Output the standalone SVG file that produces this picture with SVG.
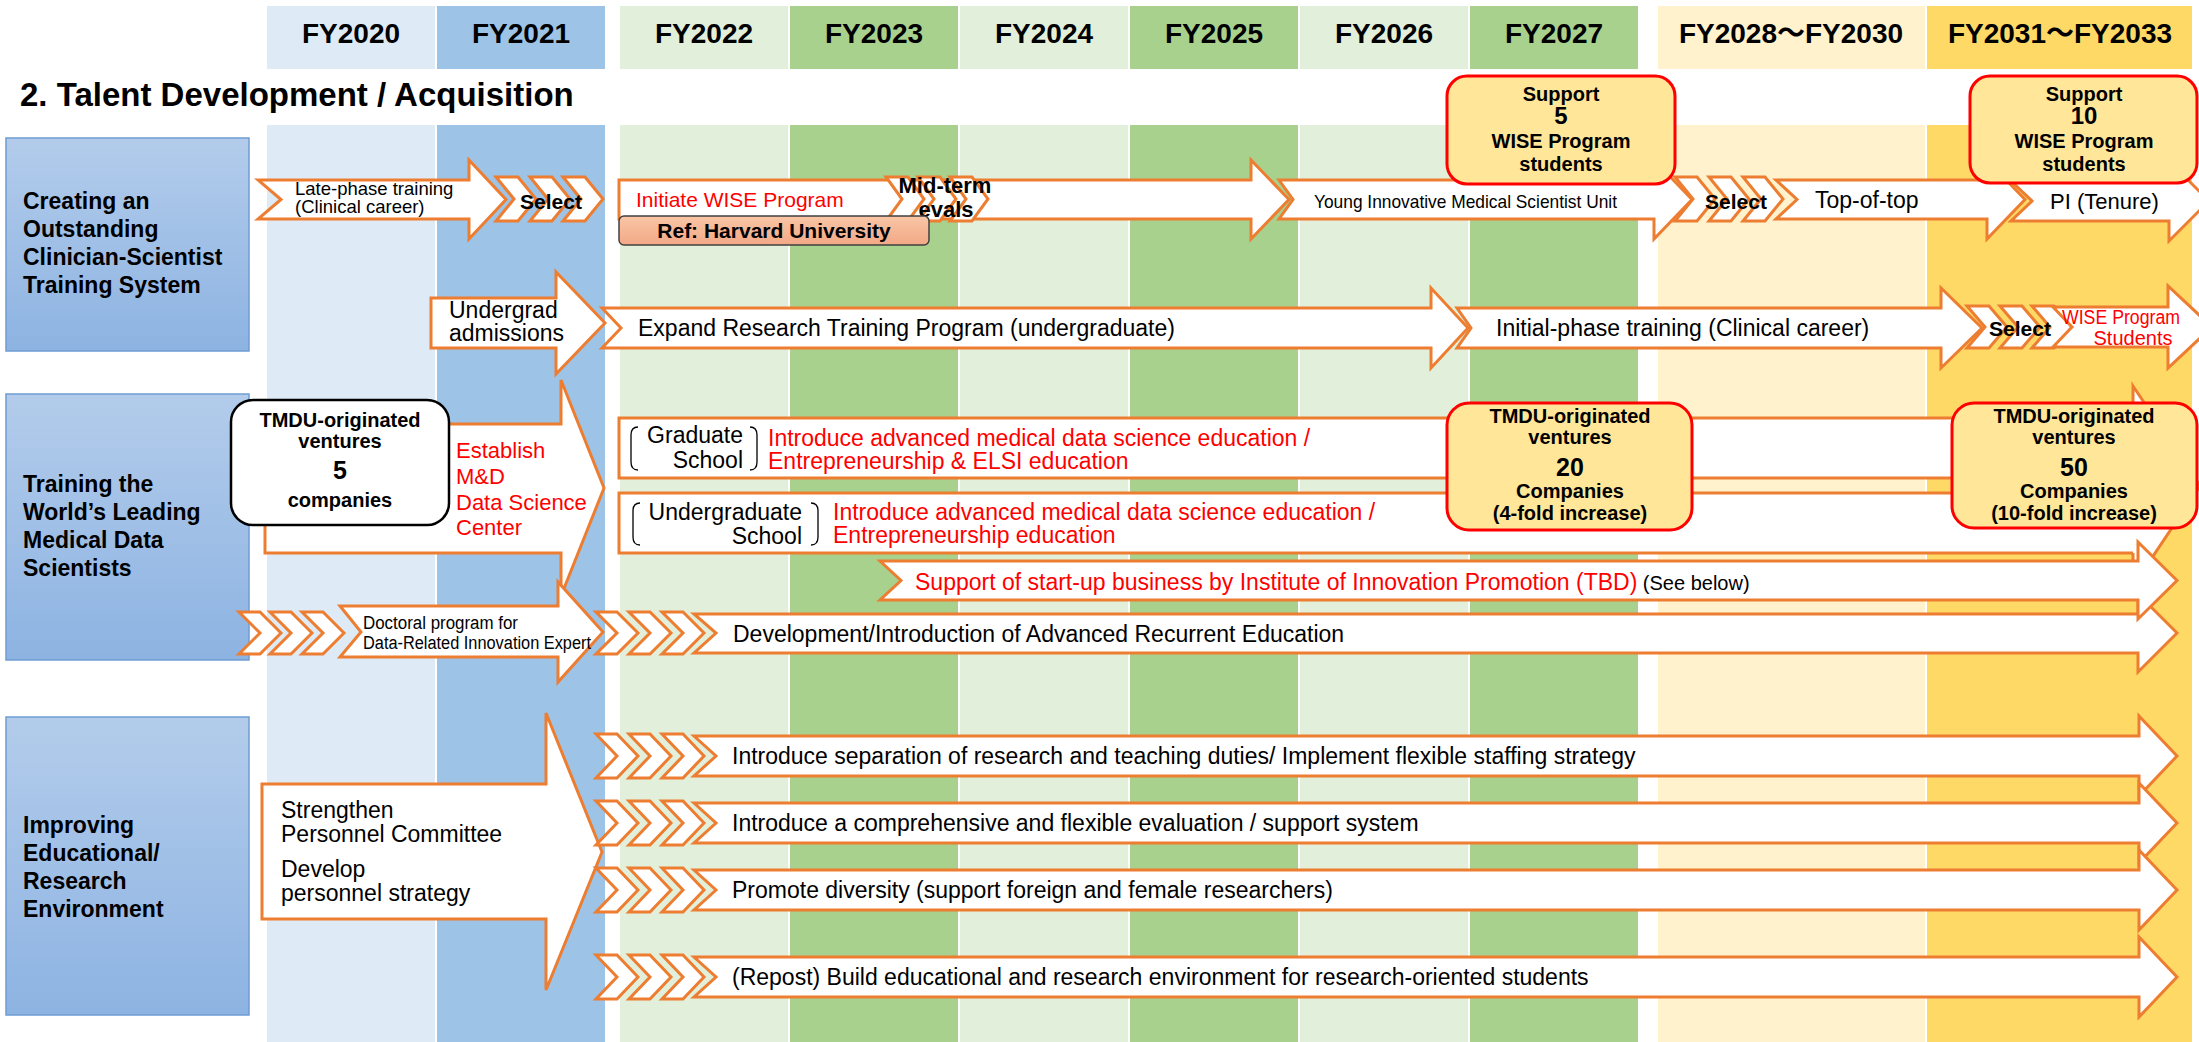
<svg xmlns="http://www.w3.org/2000/svg" width="2199" height="1042" viewBox="0 0 2199 1042">
<defs>
<linearGradient id="lbl" x1="0" y1="0" x2="0" y2="1"><stop offset="0" stop-color="#B3CCEB"/><stop offset="1" stop-color="#8DB3E2"/></linearGradient>
<linearGradient id="ref" x1="0" y1="0" x2="0" y2="1"><stop offset="0" stop-color="#F8C6A6"/><stop offset="1" stop-color="#F3A886"/></linearGradient>
</defs>
<style>
text{font-family:"Liberation Sans",Arial,sans-serif;fill:#000}
.hd{font-size:28px;font-weight:bold;text-anchor:middle;font-family:"Liberation Sans","Noto Sans CJK JP",sans-serif}
.lb{font-size:23px;font-weight:bold}
.t{font-size:23px}
.r{fill:#FF0000}
.b{font-weight:bold}
.m{text-anchor:middle}
.e{text-anchor:end}
.ar{fill:#FFFFFF;stroke:#ED7D31;stroke-width:3;stroke-linejoin:miter}
.arn{fill:none;stroke:#ED7D31;stroke-width:3}
.lbox{fill:url(#lbl);stroke:#6F9DD3;stroke-width:1.5}
.rbox{fill:#FFE699;stroke:#FF0000;stroke-width:3}
.brk{fill:none;stroke:#000;stroke-width:1.3}
</style>

<g id="columns">
<rect x="267" y="6" width="168" height="63" fill="#DEEBF7"/>
<rect x="437" y="6" width="168" height="63" fill="#9DC3E6"/>
<rect x="620" y="6" width="168" height="63" fill="#E2EFDA"/>
<rect x="790" y="6" width="168" height="63" fill="#A9D18E"/>
<rect x="960" y="6" width="168" height="63" fill="#E2EFDA"/>
<rect x="1130" y="6" width="168" height="63" fill="#A9D18E"/>
<rect x="1300" y="6" width="168" height="63" fill="#E2EFDA"/>
<rect x="1470" y="6" width="168" height="63" fill="#A9D18E"/>
<rect x="1658" y="6" width="267" height="63" fill="#FFF2CC"/>
<rect x="1927" y="6" width="265" height="63" fill="#FFD966"/>
<rect x="267" y="125" width="168" height="917" fill="#DEEBF7"/>
<rect x="437" y="125" width="168" height="917" fill="#9DC3E6"/>
<rect x="620" y="125" width="168" height="917" fill="#E2EFDA"/>
<rect x="790" y="125" width="168" height="917" fill="#A9D18E"/>
<rect x="960" y="125" width="168" height="917" fill="#E2EFDA"/>
<rect x="1130" y="125" width="168" height="917" fill="#A9D18E"/>
<rect x="1300" y="125" width="168" height="917" fill="#E2EFDA"/>
<rect x="1470" y="125" width="168" height="917" fill="#A9D18E"/>
<rect x="1658" y="125" width="267" height="917" fill="#FFF2CC"/>
<rect x="1927" y="125" width="265" height="917" fill="#FFD966"/>
<text class="hd" x="351" y="43">FY2020</text>
<text class="hd" x="521" y="43">FY2021</text>
<text class="hd" x="704" y="43">FY2022</text>
<text class="hd" x="874" y="43">FY2023</text>
<text class="hd" x="1044" y="43">FY2024</text>
<text class="hd" x="1214" y="43">FY2025</text>
<text class="hd" x="1384" y="43">FY2026</text>
<text class="hd" x="1554" y="43">FY2027</text>
<text class="hd" x="1791" y="43">FY2028～FY2030</text>
<text class="hd" x="2060" y="43">FY2031～FY2033</text>
</g>

<text x="20" y="106" style="font-size:33px;font-weight:bold">2. Talent Development / Acquisition</text>

<g id="label-row1">
<rect class="lbox" x="6" y="138" width="243" height="213"/>
<text class="lb" x="23" y="209">Creating an</text>
<text class="lb" x="23" y="237">Outstanding</text>
<text class="lb" x="23" y="265">Clinician-Scientist</text>
<text class="lb" x="23" y="293">Training System</text>
</g>
<g id="label-row2">
<rect class="lbox" x="6" y="394" width="243" height="266"/>
<text class="lb" x="23" y="492">Training the</text>
<text class="lb" x="23" y="520">World’s Leading</text>
<text class="lb" x="23" y="548">Medical Data</text>
<text class="lb" x="23" y="576">Scientists</text>
</g>
<g id="label-row3">
<rect class="lbox" x="6" y="717" width="243" height="298"/>
<text class="lb" x="23" y="833">Improving</text>
<text class="lb" x="23" y="861">Educational/</text>
<text class="lb" x="23" y="889">Research</text>
<text class="lb" x="23" y="917">Environment</text>
</g>

<g id="connectors">
<!-- Row 1 -->
<g id="late-phase">
<polygon class="ar" points="258,180 469,180 469,160 506,199.5 469,239 469,219 258,219 281,199.5"/>
<text x="295" y="195" style="font-size:18.5px">Late-phase training</text>
<text x="295" y="213" style="font-size:18.5px">(Clinical career)</text>
</g>
<g id="select1">
<polygon class="ar" points="496,177 518,177 536,199 518,221 496,221 514,199"/>
<polygon class="ar" points="530,177 552,177 570,199 552,221 530,221 548,199"/>
<polygon class="ar" points="563,177 585,177 603,199 585,221 563,221 581,199"/>
<text class="b m" x="551" y="209" style="font-size:21px">Select</text>
</g>
<g id="wise-init">
<polygon class="ar" points="619,180 1251,180 1251,160 1289,199.5 1251,239 1251,219 619,219"/>
<text class="r" x="636" y="207" style="font-size:21px">Initiate WISE Program</text>
</g>
<g id="midterm">
<polygon class="ar" points="886,177 908,177 924,199 908,221 886,221 902,199"/>
<polygon class="ar" points="918,177 940,177 956,199 940,221 918,221 934,199"/>
<polygon class="ar" points="950,177 972,177 988,199 972,221 950,221 966,199"/>
<text class="b m" x="945" y="193" style="font-size:22px">Mid-term</text>
<text class="b m" x="946" y="217" style="font-size:22px">evals</text>
</g>
<g id="young">
<polygon class="ar" points="1279,180 1654,180 1654,160 1692,199.5 1654,239 1654,219 1279,219 1293,199.5"/>
<text x="1314" y="208" style="font-size:19px" textLength="303" lengthAdjust="spacingAndGlyphs">Young Innovative Medical Scientist Unit</text>
</g>
<g id="select2">
<polygon class="ar" points="1675,177 1697,177 1715,199 1697,221 1675,221 1693,199"/>
<polygon class="ar" points="1709,177 1731,177 1749,199 1731,221 1709,221 1727,199"/>
<polygon class="ar" points="1743,177 1765,177 1783,199 1765,221 1743,221 1761,199"/>
<text class="b m" x="1736" y="209" style="font-size:21px">Select</text>
</g>
<g id="topoftop">
<polygon class="ar" points="1776,180 1987,180 1987,160 2025,199.5 1987,239 1987,219 1776,219 1797,199.5"/>
<text class="t" x="1815" y="208">Top-of-top</text>
</g>
<g id="pi">
<polygon class="ar" points="2011,181 2169,181 2169,161 2209,201 2169,241 2169,221 2011,221 2032,201"/>
<text x="2050" y="209" style="font-size:22px">PI (Tenure)</text>
</g>

<!-- Row 1b -->
<g id="admissions">
<polygon class="ar" points="431,298 556,298 556,272 605,323 556,374 556,348 431,348"/>
<text class="t" x="449" y="318">Undergrad</text>
<text class="t" x="449" y="341">admissions</text>
</g>
<g id="expand">
<polygon class="ar" points="602,308 1431,308 1431,288 1468,328 1431,368 1431,348 602,348 621,328"/>
<text class="t" x="638" y="336">Expand Research Training Program (undergraduate)</text>
</g>
<g id="initial">
<polygon class="ar" points="1457,308 1941,308 1941,288 1982,328 1941,368 1941,348 1457,348 1471,328"/>
<text class="t" x="1496" y="336">Initial-phase training (Clinical career)</text>
</g>
<g id="select3">
<polygon class="ar" points="1967,306 1989,306 2007,327 1989,348 1967,348 1985,327"/>
<polygon class="ar" points="2000,306 2022,306 2040,327 2022,348 2000,348 2018,327"/>
<polygon class="ar" points="2032,306 2054,306 2072,327 2054,348 2032,348 2050,327"/>
<text class="b m" x="2020" y="336" style="font-size:21px">Select</text>
</g>
<g id="wise-students">
<polygon class="ar" points="2053,307 2168,307 2168,286 2212,327 2168,368 2168,347 2053,347 2072,327"/>
<text class="r" x="2062" y="324" style="font-size:20px" textLength="118" lengthAdjust="spacingAndGlyphs">WISE Program</text>
<text class="r m" x="2133" y="345" style="font-size:20px">Students</text>
</g>

<!-- Row 2 -->
<g id="datacenter">
<polygon class="ar" points="265,424 561,424 561,380 604,488 561,596 561,553 265,553"/>
<text class="r" x="456" y="458" style="font-size:22px">Establish</text>
<text class="r" x="456" y="484" style="font-size:22px">M&amp;D</text>
<text class="r" x="456" y="510" style="font-size:22px">Data Science</text>
<text class="r" x="456" y="535" style="font-size:22px">Center</text>
</g>
<g id="grad-undergrad">
<polygon class="ar" points="2133,386 2200,486 2133,586"/>
<rect x="619" y="418" width="1517" height="60" fill="#FFFFFF"/>
<path class="arn" d="M2133,418 H619 V478 H2133"/>
<rect x="619" y="493" width="1517" height="60" fill="#FFFFFF"/>
<path class="arn" d="M2133,493 H619 V553 H2133"/>
<path class="brk" d="M638,427 Q631,427 631,435 V462 Q631,470 638,470"/>
<path class="brk" d="M750,427 Q757,427 757,435 V462 Q757,470 750,470"/>
<text class="t e" x="743" y="443">Graduate</text>
<text class="t e" x="743" y="468">School</text>
<text class="t r" x="768" y="446">Introduce advanced medical data science education /</text>
<text class="t r" x="768" y="469">Entrepreneurship &amp; ELSI education</text>
<path class="brk" d="M640,503 Q633,503 633,511 V537 Q633,545 640,545"/>
<path class="brk" d="M811,503 Q818,503 818,511 V537 Q818,545 811,545"/>
<text class="t e" x="802" y="520">Undergraduate</text>
<text class="t e" x="802" y="544">School</text>
<text class="t r" x="833" y="520">Introduce advanced medical data science education /</text>
<text class="t r" x="833" y="543">Entrepreneurship education</text>
</g>
<g id="doctoral">
<polygon class="ar" points="239,612 260,612 281,633 260,654 239,654 260,633"/>
<polygon class="ar" points="270,612 291,612 312,633 291,654 270,654 291,633"/>
<polygon class="ar" points="302,612 323,612 344,633 323,654 302,654 323,633"/>
<polygon class="ar" points="340,606 558,606 558,582 603,632 558,682 558,657 340,657 361,632"/>
<text x="363" y="629" style="font-size:18px" textLength="155" lengthAdjust="spacingAndGlyphs">Doctoral program for</text>
<text x="363" y="649" style="font-size:18px" textLength="228" lengthAdjust="spacingAndGlyphs">Data-Related Innovation Expert</text>
</g>
<g id="recurrent">
<polygon class="ar" points="596,612 617,612 638,633 617,654 596,654 617,633"/>
<polygon class="ar" points="629,612 650,612 671,633 650,654 629,654 650,633"/>
<polygon class="ar" points="662,612 683,612 704,633 683,654 662,654 683,633"/>
<polygon class="ar" points="694,614 2138,614 2138,594 2177,633 2138,672 2138,653 694,653 716,633"/>
<text class="t" x="733" y="642">Development/Introduction of Advanced Recurrent Education</text>
</g>
<g id="startup">
<polygon class="ar" points="880,561 2138,561 2138,542 2177,580.5 2138,619 2138,600 880,600 901,580.5"/>
<text class="t" x="915" y="590"><tspan class="r">Support of start-up business by Institute of Innovation Promotion (TBD)</tspan><tspan style="font-size:20px"> (See below)</tspan></text>
</g>

<!-- Row 3 -->
<g id="personnel">
<polygon class="ar" points="262,784 546,784 546,713 602,852 546,990 546,919 262,919"/>
<text class="t" x="281" y="818">Strengthen</text>
<text class="t" x="281" y="842">Personnel Committee</text>
<text class="t" x="281" y="877">Develop</text>
<text class="t" x="281" y="901">personnel strategy</text>
</g>
<g id="sep">
<polygon class="ar" points="596,734 617,734 638,756 617,778 596,778 617,756"/>
<polygon class="ar" points="629,734 650,734 671,756 650,778 629,778 650,756"/>
<polygon class="ar" points="662,734 683,734 704,756 683,778 662,778 683,756"/>
<polygon class="ar" points="694,736 2139,736 2139,716 2177,756 2139,796 2139,776 694,776 716,756"/>
<text class="t" x="732" y="764">Introduce separation of research and teaching duties/ Implement flexible staffing strategy</text>
</g>
<g id="eval">
<polygon class="ar" points="596,801 617,801 638,823 617,845 596,845 617,823"/>
<polygon class="ar" points="629,801 650,801 671,823 650,845 629,845 650,823"/>
<polygon class="ar" points="662,801 683,801 704,823 683,845 662,845 683,823"/>
<polygon class="ar" points="694,803 2139,803 2139,783 2177,823 2139,863 2139,843 694,843 716,823"/>
<text class="t" x="732" y="831">Introduce a comprehensive and flexible evaluation / support system</text>
</g>
<g id="diversity">
<polygon class="ar" points="596,868 617,868 638,890 617,912 596,912 617,890"/>
<polygon class="ar" points="629,868 650,868 671,890 650,912 629,912 650,890"/>
<polygon class="ar" points="662,868 683,868 704,890 683,912 662,912 683,890"/>
<polygon class="ar" points="694,870 2139,870 2139,850 2177,890 2139,930 2139,910 694,910 716,890"/>
<text class="t" x="732" y="898">Promote diversity (support foreign and female researchers)</text>
</g>
<g id="repost">
<polygon class="ar" points="596,955 617,955 638,977 617,999 596,999 617,977"/>
<polygon class="ar" points="629,955 650,955 671,977 650,999 629,999 650,977"/>
<polygon class="ar" points="662,955 683,955 704,977 683,999 662,999 683,977"/>
<polygon class="ar" points="694,957 2139,957 2139,937 2177,977 2139,1017 2139,997 694,997 716,977"/>
<text class="t" x="732" y="985">(Repost) Build educational and research environment for research-oriented students</text>
</g>
</g>

<g id="ref-harvard">
<rect x="619" y="216" width="310" height="29" rx="5" fill="url(#ref)" stroke="#404040" stroke-width="1.5"/>
<text class="b m" x="774" y="238" style="font-size:21px">Ref: Harvard University</text>
</g>
<g id="support5">
<rect class="rbox" x="1447" y="76" width="228" height="108" rx="20"/>
<text class="b m" x="1561" y="101" style="font-size:20px">Support</text>
<text class="b m" x="1561" y="124" style="font-size:24px">5</text>
<text class="b m" x="1561" y="148" style="font-size:20px">WISE Program</text>
<text class="b m" x="1561" y="171" style="font-size:20px">students</text>
</g>
<g id="support10">
<rect class="rbox" x="1970" y="76" width="227" height="107" rx="20"/>
<text class="b m" x="2084" y="101" style="font-size:20px">Support</text>
<text class="b m" x="2084" y="124" style="font-size:24px">10</text>
<text class="b m" x="2084" y="148" style="font-size:20px">WISE Program</text>
<text class="b m" x="2084" y="171" style="font-size:20px">students</text>
</g>
<g id="ventures5">
<rect x="231" y="400" width="218" height="125" rx="22" fill="#FFFFFF" stroke="#000" stroke-width="2.5"/>
<text class="b m" x="340" y="427" style="font-size:20px">TMDU-originated</text>
<text class="b m" x="340" y="448" style="font-size:20px">ventures</text>
<text class="b m" x="340" y="479" style="font-size:25px">5</text>
<text class="b m" x="340" y="507" style="font-size:20px">companies</text>
</g>
<g id="ventures20">
<rect class="rbox" x="1447" y="403" width="245" height="127" rx="22"/>
<text class="b m" x="1570" y="423" style="font-size:20px">TMDU-originated</text>
<text class="b m" x="1570" y="444" style="font-size:20px">ventures</text>
<text class="b m" x="1570" y="476" style="font-size:25px">20</text>
<text class="b m" x="1570" y="498" style="font-size:20px">Companies</text>
<text class="b m" x="1570" y="520" style="font-size:20px">(4-fold increase)</text>
</g>
<g id="ventures50">
<rect class="rbox" x="1952" y="403" width="245" height="125" rx="22"/>
<text class="b m" x="2074" y="423" style="font-size:20px">TMDU-originated</text>
<text class="b m" x="2074" y="444" style="font-size:20px">ventures</text>
<text class="b m" x="2074" y="476" style="font-size:25px">50</text>
<text class="b m" x="2074" y="498" style="font-size:20px">Companies</text>
<text class="b m" x="2074" y="520" style="font-size:20px">(10-fold increase)</text>
</g>
</svg>
